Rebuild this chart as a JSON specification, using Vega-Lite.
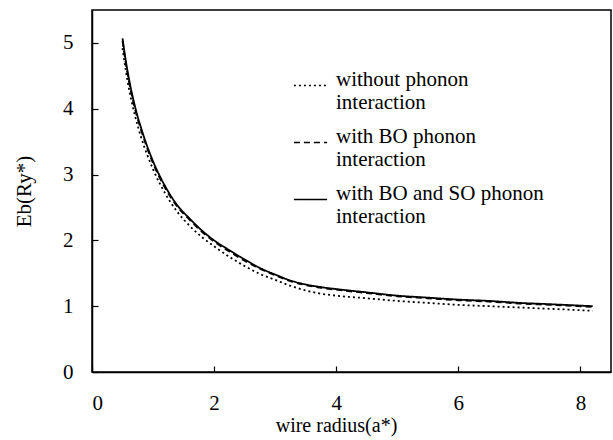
{
  "$schema": "https://vega.github.io/schema/vega-lite/v6.json",
  "width": 519,
  "height": 362,
  "autosize": {"type": "none"},
  "padding": {"left": 92, "top": 10, "right": 2, "bottom": 68},
  "background": "white",
  "config": {
    "font": "Liberation Serif",
    "view": {"stroke": "black", "strokeWidth": 1.5},
    "style": {
      "guide-label": {"font": "Liberation Serif", "fill": "black"},
      "guide-title": {"font": "Liberation Serif", "fill": "black"}
    },
    "axis": {
      "domainColor": "black", "domainWidth": 1.5, "tickColor": "black", "tickWidth": 1.2,
      "labelFont": "Liberation Serif", "labelFontSize": 21, "labelColor": "black",
      "titleFont": "Liberation Serif", "titleFontSize": 21, "titleFontWeight": "normal", "titleColor": "black",
      "grid": false
    },
    "legend": {"labelFont": "Liberation Serif", "labelFontSize": 21, "labelColor": "black"}
  },
  "data": {
    "values": [
      {"series": "with BO and SO phonon interaction", "r": 0.5, "eb": 5.07},
      {"series": "with BO and SO phonon interaction", "r": 0.55, "eb": 4.75},
      {"series": "with BO and SO phonon interaction", "r": 0.6, "eb": 4.48},
      {"series": "with BO and SO phonon interaction", "r": 0.7, "eb": 4.05},
      {"series": "with BO and SO phonon interaction", "r": 0.8, "eb": 3.72},
      {"series": "with BO and SO phonon interaction", "r": 0.9, "eb": 3.44},
      {"series": "with BO and SO phonon interaction", "r": 1.0, "eb": 3.2},
      {"series": "with BO and SO phonon interaction", "r": 1.2, "eb": 2.82},
      {"series": "with BO and SO phonon interaction", "r": 1.4, "eb": 2.53},
      {"series": "with BO and SO phonon interaction", "r": 1.6, "eb": 2.33},
      {"series": "with BO and SO phonon interaction", "r": 1.8, "eb": 2.15},
      {"series": "with BO and SO phonon interaction", "r": 2.0, "eb": 2.0},
      {"series": "with BO and SO phonon interaction", "r": 2.25, "eb": 1.85},
      {"series": "with BO and SO phonon interaction", "r": 2.5, "eb": 1.71},
      {"series": "with BO and SO phonon interaction", "r": 2.75, "eb": 1.58},
      {"series": "with BO and SO phonon interaction", "r": 3.0, "eb": 1.48},
      {"series": "with BO and SO phonon interaction", "r": 3.25, "eb": 1.39},
      {"series": "with BO and SO phonon interaction", "r": 3.5, "eb": 1.33},
      {"series": "with BO and SO phonon interaction", "r": 3.75, "eb": 1.29},
      {"series": "with BO and SO phonon interaction", "r": 4.0, "eb": 1.26},
      {"series": "with BO and SO phonon interaction", "r": 4.5, "eb": 1.21},
      {"series": "with BO and SO phonon interaction", "r": 5.0, "eb": 1.16},
      {"series": "with BO and SO phonon interaction", "r": 5.5, "eb": 1.13},
      {"series": "with BO and SO phonon interaction", "r": 6.0, "eb": 1.1},
      {"series": "with BO and SO phonon interaction", "r": 6.5, "eb": 1.08},
      {"series": "with BO and SO phonon interaction", "r": 7.0, "eb": 1.05},
      {"series": "with BO and SO phonon interaction", "r": 7.5, "eb": 1.03},
      {"series": "with BO and SO phonon interaction", "r": 8.2, "eb": 1.0},
      {"series": "with BO phonon interaction", "r": 0.5, "eb": 5.03},
      {"series": "with BO phonon interaction", "r": 0.55, "eb": 4.71},
      {"series": "with BO phonon interaction", "r": 0.6, "eb": 4.44},
      {"series": "with BO phonon interaction", "r": 0.7, "eb": 4.01},
      {"series": "with BO phonon interaction", "r": 0.8, "eb": 3.69},
      {"series": "with BO phonon interaction", "r": 0.9, "eb": 3.41},
      {"series": "with BO phonon interaction", "r": 1.0, "eb": 3.17},
      {"series": "with BO phonon interaction", "r": 1.2, "eb": 2.79},
      {"series": "with BO phonon interaction", "r": 1.4, "eb": 2.51},
      {"series": "with BO phonon interaction", "r": 1.6, "eb": 2.31},
      {"series": "with BO phonon interaction", "r": 1.8, "eb": 2.13},
      {"series": "with BO phonon interaction", "r": 2.0, "eb": 1.98},
      {"series": "with BO phonon interaction", "r": 2.25, "eb": 1.83},
      {"series": "with BO phonon interaction", "r": 2.5, "eb": 1.69},
      {"series": "with BO phonon interaction", "r": 2.75, "eb": 1.57},
      {"series": "with BO phonon interaction", "r": 3.0, "eb": 1.47},
      {"series": "with BO phonon interaction", "r": 3.25, "eb": 1.38},
      {"series": "with BO phonon interaction", "r": 3.5, "eb": 1.32},
      {"series": "with BO phonon interaction", "r": 3.75, "eb": 1.28},
      {"series": "with BO phonon interaction", "r": 4.0, "eb": 1.25},
      {"series": "with BO phonon interaction", "r": 4.5, "eb": 1.2},
      {"series": "with BO phonon interaction", "r": 5.0, "eb": 1.15},
      {"series": "with BO phonon interaction", "r": 5.5, "eb": 1.12},
      {"series": "with BO phonon interaction", "r": 6.0, "eb": 1.09},
      {"series": "with BO phonon interaction", "r": 6.5, "eb": 1.07},
      {"series": "with BO phonon interaction", "r": 7.0, "eb": 1.04},
      {"series": "with BO phonon interaction", "r": 7.5, "eb": 1.02},
      {"series": "with BO phonon interaction", "r": 8.2, "eb": 0.99},
      {"series": "without phonon interaction", "r": 0.5, "eb": 4.92},
      {"series": "without phonon interaction", "r": 0.55, "eb": 4.6},
      {"series": "without phonon interaction", "r": 0.6, "eb": 4.33},
      {"series": "without phonon interaction", "r": 0.7, "eb": 3.91},
      {"series": "without phonon interaction", "r": 0.8, "eb": 3.58},
      {"series": "without phonon interaction", "r": 0.9, "eb": 3.31},
      {"series": "without phonon interaction", "r": 1.0, "eb": 3.08},
      {"series": "without phonon interaction", "r": 1.2, "eb": 2.71},
      {"series": "without phonon interaction", "r": 1.4, "eb": 2.43},
      {"series": "without phonon interaction", "r": 1.6, "eb": 2.22},
      {"series": "without phonon interaction", "r": 1.8, "eb": 2.05},
      {"series": "without phonon interaction", "r": 2.0, "eb": 1.91},
      {"series": "without phonon interaction", "r": 2.25, "eb": 1.75},
      {"series": "without phonon interaction", "r": 2.5, "eb": 1.61},
      {"series": "without phonon interaction", "r": 2.75, "eb": 1.49},
      {"series": "without phonon interaction", "r": 3.0, "eb": 1.4},
      {"series": "without phonon interaction", "r": 3.25, "eb": 1.31},
      {"series": "without phonon interaction", "r": 3.5, "eb": 1.24},
      {"series": "without phonon interaction", "r": 3.75, "eb": 1.19},
      {"series": "without phonon interaction", "r": 4.0, "eb": 1.16},
      {"series": "without phonon interaction", "r": 4.5, "eb": 1.12},
      {"series": "without phonon interaction", "r": 5.0, "eb": 1.08},
      {"series": "without phonon interaction", "r": 5.5, "eb": 1.05},
      {"series": "without phonon interaction", "r": 6.0, "eb": 1.02},
      {"series": "without phonon interaction", "r": 6.5, "eb": 1.0},
      {"series": "without phonon interaction", "r": 7.0, "eb": 0.98},
      {"series": "without phonon interaction", "r": 7.5, "eb": 0.96},
      {"series": "without phonon interaction", "r": 8.2, "eb": 0.93}
    ]
  },
  "mark": {"type": "line", "color": "black", "strokeWidth": 1.8, "interpolate": "monotone"},
  "encoding": {
    "x": {
      "field": "r", "type": "quantitative",
      "scale": {"domain": [0, 8.5], "nice": false},
      "axis": {"title": "wire radius(a*)", "values": [0, 2, 4, 6, 8], "tickSize": -6, "labelPadding": 26, "titlePadding": 2, "titleFontSize": 20, "titleX": 244}
    },
    "y": {
      "field": "eb", "type": "quantitative",
      "scale": {"domain": [0, 5.5], "nice": false},
      "axis": {"title": "Eb(Ry*)", "values": [0, 1, 2, 3, 4, 5], "tickSize": -6, "labelPadding": 25, "titlePadding": 28}
    },
    "strokeDash": {
      "field": "series", "type": "nominal",
      "scale": {
        "domain": ["without phonon interaction", "with BO phonon interaction", "with BO and SO phonon interaction"],
        "range": [[2, 3], [6, 4], [1, 0]]
      },
      "legend": {
        "title": null,
        "orient": "none",
        "legendX": 201,
        "legendY": 58,
        "symbolType": "stroke",
        "symbolSize": 1100,
        "symbolStrokeWidth": 1.5,
        "symbolStrokeColor": "black",
        "labelFont": "Liberation Serif",
        "labelBaseline": "alphabetic",
        "labelOffset": 8,
        "rowPadding": 12,
        "labelLimit": 400,
        "labelExpr": "[replace(datum.label, ' interaction', ''), 'interaction']"
      }
    }
  }
}
